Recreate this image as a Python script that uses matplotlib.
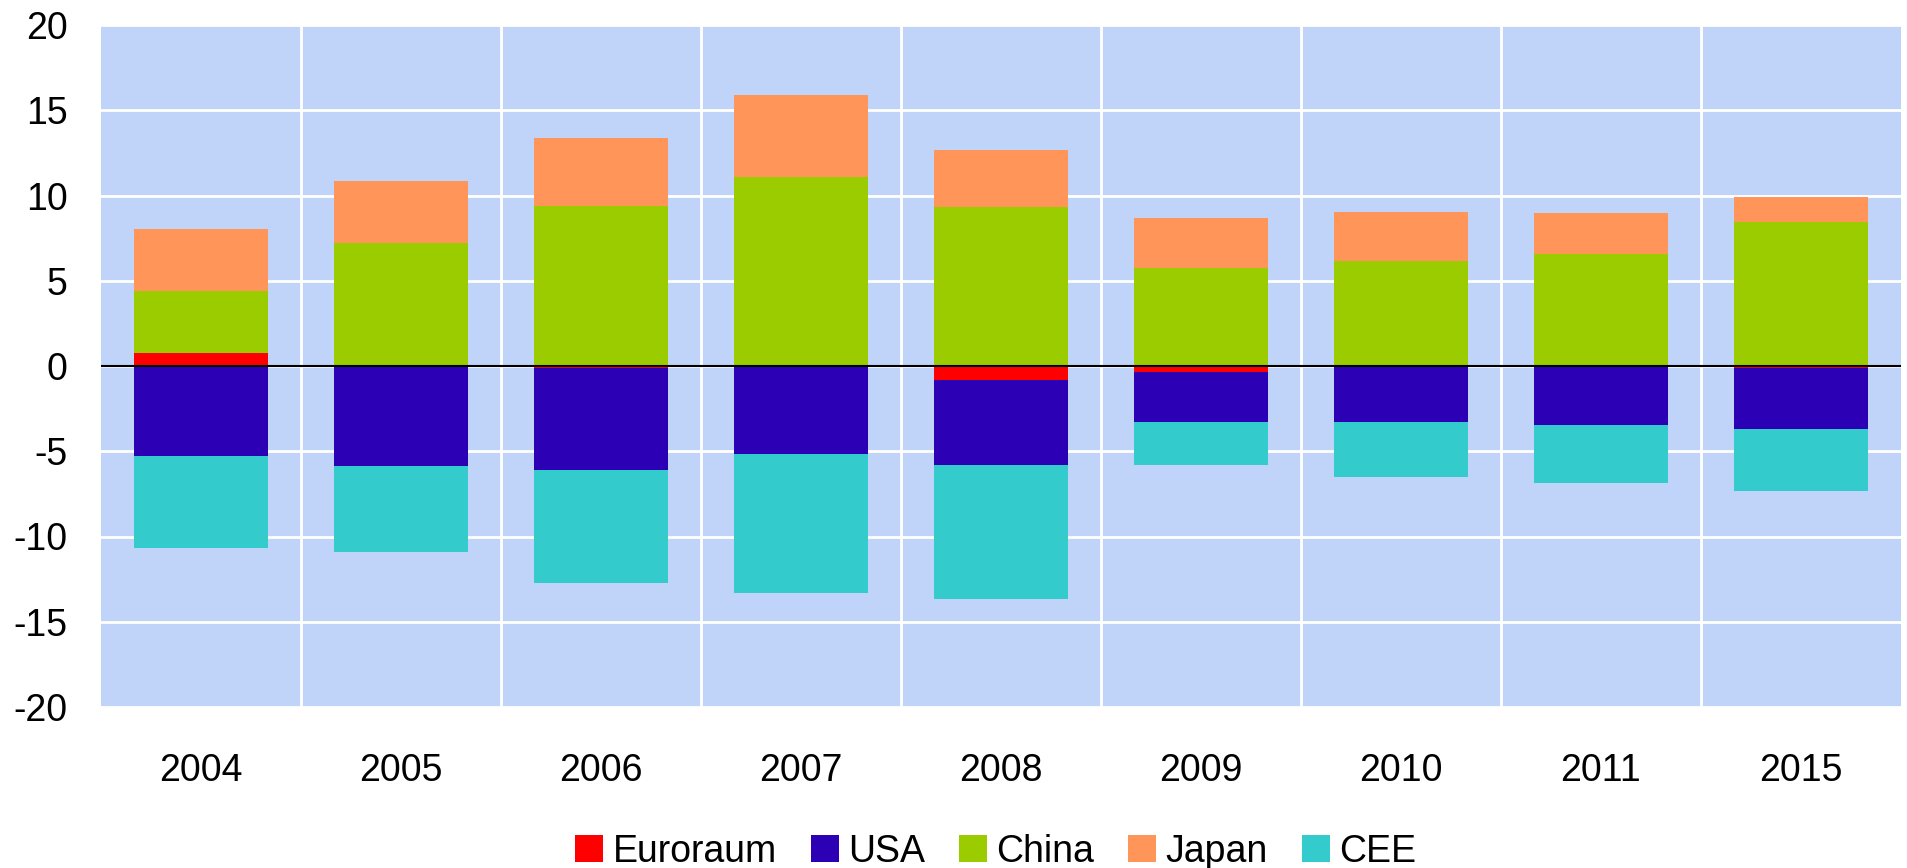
#import the required modules
import numpy as np
import matplotlib.pyplot as plt

plt.rcParams['font.family'] = ['Liberation Sans', 'DejaVu Sans']

#data
years = ['2004', '2005', '2006', '2007', '2008', '2009', '2010', '2011', '2015']
euroraum = [0.74, 0.05, -0.1, -0.05, -0.83, -0.37, 0.0, 0.05, -0.1]
usa = [-5.25, -5.85, -5.98, -5.11, -4.98, -2.92, -3.29, -3.47, -3.6]
china = [3.68, 7.16, 9.4, 11.06, 9.31, 5.76, 6.16, 6.52, 8.47]
japan = [3.6, 3.62, 3.99, 4.84, 3.33, 2.9, 2.85, 2.43, 1.46]
cee = [-5.42, -5.05, -6.66, -8.15, -7.85, -2.52, -3.21, -3.41, -3.64]
yticks = [-20, -15, -10, -5, 0, 5, 10, 15, 20]

series = [('Euroraum', euroraum, '#ff0000'),
          ('USA', usa, '#2c00b4'),
          ('China', china, '#9bcc00'),
          ('Japan', japan, '#ff9559'),
          ('CEE', cee, '#33cbcc')]

fig = plt.figure(figsize=(19.07, 8.68), dpi=100)
ax = fig.add_axes([101/1907, 1 - 707/868, 1800/1907, 682/868])
ax.set_facecolor('#c0d3f8')

x = np.arange(len(years))
pos = np.zeros(len(years))
neg = np.zeros(len(years))
for name, vals, col in series:
    v = np.array(vals)
    bottom = np.where(v >= 0, pos, neg)
    ax.bar(x, v, width=0.67, bottom=bottom, color=col, label=name, zorder=3)
    pos = pos + np.clip(v, 0, None)
    neg = neg + np.clip(v, None, 0)

ax.axhline(0, color='black', linewidth=1.5, zorder=4)

ax.set_xlim(-0.5, len(years) - 0.5)
ax.set_ylim(-20, 20)
ax.set_yticks(yticks)
ax.set_yticklabels([str(t) for t in yticks])  # plain hyphen as minus
ax.set_xticks(x)
ax.set_xticklabels(years)
#white grid: horizontal at the ticks, vertical between the categories
ax.set_xticks(np.arange(0.5, len(years) - 1, 1), minor=True)
ax.grid(axis='y', color='white', linewidth=2, zorder=1)
ax.grid(axis='x', which='minor', color='white', linewidth=2, zorder=1)
ax.tick_params(axis='both', which='both', length=0, labelsize=27)
ax.tick_params(axis='x', pad=33)
ax.tick_params(axis='y', pad=24)
for s in ax.spines.values():
    s.set_visible(False)

ax.legend(loc='center', bbox_to_anchor=(0.497, -0.212), ncol=5, frameon=False,
          fontsize=27, handlelength=0.75, handleheight=0.75, handletextpad=0.25,
          columnspacing=0.9, borderpad=0)

plt.savefig('out.png', dpi=100)
